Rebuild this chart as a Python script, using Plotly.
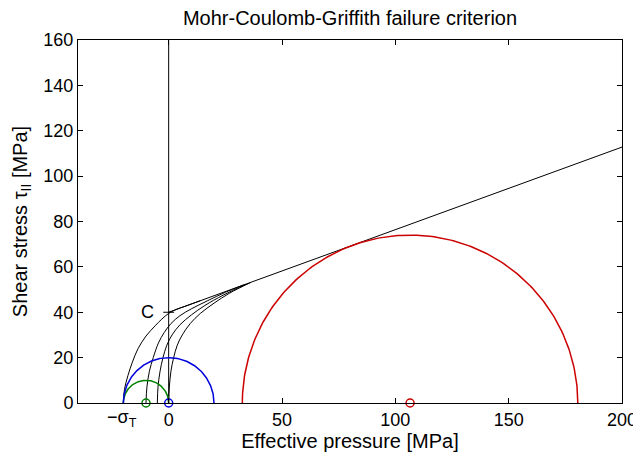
import numpy as np
import plotly.graph_objects as go

# ---- data ----
cohesion = 40.0
coulomb_sigma = [0.0, 200.0]
coulomb_tau = [40.0, 112.8]

# Mohr circles: centers and radii
circle_centers = [-10.0, 0.0, 106.5]
circle_radii = [10.0, 20.0, 74.0]
circle_colors = ["#008000", "#0000dd", "#cc0000"]

# transition envelopes (sigma, tau)
env1_sigma = [-20, -19.5, -18, -16, -13.5, -10, -6, -3, 0, 3, 8, 14]
env1_tau = [0, 6, 12, 18, 24, 29.5, 34, 37, 39.5, 41.1, 42.9, 45.1]
env2_sigma = [-10, -9.6, -8.5, -6.8, -4.5, -2, 1, 5, 10, 17, 25, 33]
env2_tau = [0, 7, 14, 20, 26.5, 31, 35, 38.5, 41.5, 45, 48.8, 52]
env3_sigma = [-5, -4.7, -3.8, -2.5, -0.8, 1.5, 5, 10, 16, 24, 34]
env3_tau = [0, 7, 14, 20, 25.5, 30, 34.5, 38.8, 43, 47.5, 52.3]
env4_sigma = [0, 0.3, 1, 2.2, 3.8, 6, 9.5, 14, 20, 27, 36]
env4_tau = [0, 7, 14, 20, 25.5, 30, 35, 39.5, 44, 48.5, 53]

x_ticks = [0, 50, 100, 150, 200]
y_ticks = [0, 20, 40, 60, 80, 100, 120, 140, 160]

FONT = "Liberation Sans, Arial, Helvetica, sans-serif"

fig = go.Figure()

# vertical tau axis at sigma = 0
fig.add_trace(go.Scatter(x=[0, 0], y=[0, 160], mode="lines",
                         line=dict(color="black", width=1), hoverinfo="skip"))
# C tick
fig.add_trace(go.Scatter(x=[-2.4, 2.4], y=[cohesion, cohesion], mode="lines",
                         line=dict(color="black", width=1), hoverinfo="skip"))

for sx, sy in [(env1_sigma, env1_tau), (env2_sigma, env2_tau),
               (env3_sigma, env3_tau), (env4_sigma, env4_tau)]:
    fig.add_trace(go.Scatter(x=sx, y=sy, mode="lines",
                             line=dict(color="black", width=1, shape="spline", smoothing=1.0),
                             hoverinfo="skip"))

fig.add_trace(go.Scatter(x=coulomb_sigma, y=coulomb_tau, mode="lines",
                         line=dict(color="black", width=1), hoverinfo="skip"))

theta = np.linspace(0, np.pi, 200)
for c, r, col in zip(circle_centers, circle_radii, circle_colors):
    fig.add_trace(go.Scatter(x=c + r * np.cos(theta), y=r * np.sin(theta), mode="lines",
                             line=dict(color=col, width=1.5), hoverinfo="skip"))
    fig.add_trace(go.Scatter(x=[c], y=[0], mode="markers", cliponaxis=False,
                             marker=dict(symbol="circle-open", size=8, color=col,
                                         line=dict(width=1.5, color=col)),
                             hoverinfo="skip"))

fig.add_annotation(x=-5.5, y=cohesion, text="C", showarrow=False, xanchor="right",
                   yanchor="middle", font=dict(size=18, color="black", family=FONT))
fig.add_annotation(x=-20.5, y=0, text="\u2212\u03c3<sub>T</sub>", showarrow=False,
                   xanchor="center", yanchor="middle", yshift=-15,
                   font=dict(size=18, color="black", family=FONT))

axis_common = dict(showgrid=False, zeroline=False, showline=True, linecolor="black",
                   linewidth=1, mirror="ticks", ticks="inside", ticklen=5,
                   tickcolor="black", automargin=False,
                   tickfont=dict(size=18, color="black", family=FONT))

fig.update_xaxes(range=[-40, 200], tickvals=x_ticks, ticktext=[str(v) for v in x_ticks],
                 title=dict(text="Effective pressure [MPa]", standoff=0,
                            font=dict(size=20, color="black", family=FONT)),
                 **axis_common)
fig.update_yaxes(range=[0, 160], tickvals=y_ticks, ticktext=[str(v) for v in y_ticks],
                 title=dict(text="Shear stress \u03c4<sub>II</sub> [MPa]", standoff=10,
                            font=dict(size=20, color="black", family=FONT)),
                 **axis_common)

# the page body has an 8px margin, so the figure is sized/offset to compensate
fig.update_layout(
    width=633, height=450,
    margin=dict(l=70, r=19, t=32, b=55),
    paper_bgcolor="white", plot_bgcolor="white",
    showlegend=False,
    title=dict(text="Mohr-Coulomb-Griffith failure criterion", x=0.5, xref="paper",
               y=1 - 10 / 450, yref="container", xanchor="center", yanchor="middle",
               font=dict(size=20, color="black", family=FONT)),
)

fig.write_html("out.html")
